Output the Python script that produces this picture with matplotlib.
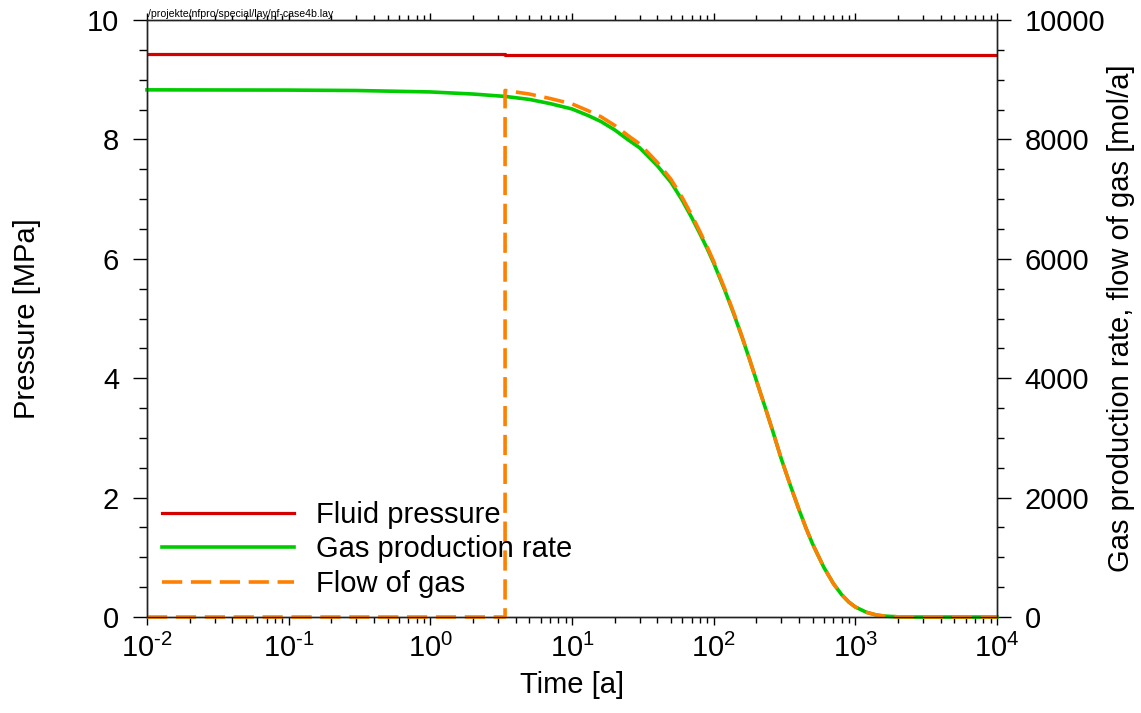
import matplotlib
matplotlib.use('Agg')
import matplotlib.pyplot as plt
from matplotlib.ticker import MultipleLocator, LogLocator, NullFormatter, FuncFormatter
import numpy as np

plt.rcParams['font.family'] = ['Liberation Sans', 'DejaVu Sans']
plt.rcParams['mathtext.fontset'] = 'custom'
plt.rcParams['mathtext.rm'] = 'Liberation Sans'
plt.rcParams['mathtext.it'] = 'Liberation Sans:italic'
plt.rcParams['axes.unicode_minus'] = False

FS = 21
RED = '#d40000'
GREEN = '#00cc00'
ORANGE = '#ff8000'

# fluid pressure [MPa]
t_press = [0.01, 3.37, 3.37, 10000]
pressure = [9.43, 9.43, 9.415, 9.415]

# gas production rate [mol/a]
t_gas = [0.01, 0.1, 0.3, 1, 2, 3.37, 5, 7, 10, 13, 16, 20, 25, 30, 35, 40, 50, 60,
         70, 80, 90, 100, 120, 140, 160, 180, 200, 230, 260, 300, 350, 400, 450, 500,
         600, 700, 800, 900, 1000, 1200, 1400, 1600, 2000, 2500, 10000]
gas_rate = [8830, 8826, 8819, 8795, 8760, 8720, 8670, 8600, 8510, 8400, 8300, 8160,
            7990, 7860, 7700, 7560, 7280, 6980, 6690, 6420, 6170, 5930, 5470, 5050,
            4660, 4300, 3965, 3525, 3130, 2650, 2185, 1800, 1480, 1220, 830, 560, 375,
            250, 168, 78, 35, 15, 3, 0, 0]

# flow of gas [mol/a]
t_flow = [0.01, 3.37, 3.37, 5, 7, 10, 13, 16, 20, 25, 30, 35, 40, 50, 60, 70, 80, 90,
          100, 120, 140, 160, 180, 200, 230, 260, 300, 350, 400, 450, 500, 600, 700,
          800, 900, 1000, 1200, 1400, 1600, 2000, 2500, 10000]
flow = [0, 0, 8820, 8760, 8685, 8595, 8480, 8380, 8235, 8060, 7925, 7760, 7615, 7330,
        7025, 6730, 6455, 6200, 5958, 5492, 5066, 4670, 4305, 3965, 3525, 3130, 2650,
        2185, 1800, 1480, 1220, 830, 560, 375, 250, 168, 78, 35, 15, 3, 0, 0]

fig = plt.figure(figsize=(11.41, 7.13), dpi=100)
ax = fig.add_axes([147 / 1141, 1 - 617 / 713, 850 / 1141, 597 / 713])
ax2 = ax.twinx()

ax.plot(t_press, pressure, color=RED, lw=2.3, label='Fluid pressure')
ax2.plot(t_gas, gas_rate, color=GREEN, lw=2.6, clip_on=False, label='Gas production rate')
ax2.plot(t_flow, flow, color=ORANGE, lw=2.6, ls=(0, (5.6, 2.4)), clip_on=False,
         label='Flow of gas')

ax.set_xscale('log')
ax.set_xlim(1e-2, 1e4)
ax.set_ylim(0, 10)
ax2.set_ylim(0, 10000)


def decade_label(v, pos):
    e = int(round(np.log10(v)))
    if e < 0:
        return r'$\mathdefault{10^{\text{-}%d}}$' % (-e)
    return r'$\mathdefault{10^{%d}}$' % e


ax.xaxis.set_major_locator(LogLocator(base=10, numticks=20))
ax.xaxis.set_major_formatter(FuncFormatter(decade_label))
ax.xaxis.set_minor_locator(LogLocator(base=10, subs=range(2, 10), numticks=20))
ax.xaxis.set_minor_formatter(NullFormatter())
ax.yaxis.set_major_locator(MultipleLocator(2))
ax.yaxis.set_minor_locator(MultipleLocator(0.5))
ax2.yaxis.set_major_locator(MultipleLocator(2000))
ax2.yaxis.set_minor_locator(MultipleLocator(500))

ax.tick_params(axis='x', which='major', direction='out', length=6, width=1,
               labelsize=FS, pad=6, top=False)
ax.tick_params(axis='x', which='minor', direction='out', length=4, width=1, top=False)
ax.tick_params(axis='y', which='major', direction='out', length=10, width=1,
               labelsize=FS, pad=10)
ax.tick_params(axis='y', which='minor', direction='out', length=6, width=1)
ax2.tick_params(axis='y', which='major', direction='out', length=10, width=1,
                labelsize=FS, pad=10)
ax2.tick_params(axis='y', which='minor', direction='out', length=5, width=1)

# top ticks on the twin's x axis, shorter and unlabeled
ax2.xaxis.set_visible(True)
ax2.xaxis.set_ticks_position('top')
ax2.tick_params(axis='x', which='major', direction='out', length=5, width=1,
                labeltop=False, labelbottom=False, bottom=False, top=True)
ax2.tick_params(axis='x', which='minor', direction='out', length=3.5, width=1,
                labeltop=False, labelbottom=False, bottom=False, top=True)

for a in (ax, ax2):
    for s in a.spines.values():
        s.set_linewidth(1)
        s.set_color('#222222')

ax.set_xlabel('Time [a]', fontsize=FS, labelpad=6)
ax.set_ylabel('Pressure [MPa]', fontsize=FS, labelpad=33)
ax2.set_ylabel('Gas production rate, flow of gas [mol/a]', fontsize=FS, labelpad=1)

h1, l1 = ax.get_legend_handles_labels()
h2, l2 = ax2.get_legend_handles_labels()
ax2.legend(h1 + h2, l1 + l2, loc='lower left', bbox_to_anchor=(0.018, 0.032),
           frameon=False, fontsize=FS, handlelength=4.5, handletextpad=0.78,
           labelspacing=0.22, borderpad=0, borderaxespad=0)

fig.text(148 / 1141, 1 - 17 / 713, '/projekte/nfpro/special/lay/pf-case4b.lay',
         fontsize=7.6, ha='left', va='baseline')

fig.savefig('out.png', dpi=100)
